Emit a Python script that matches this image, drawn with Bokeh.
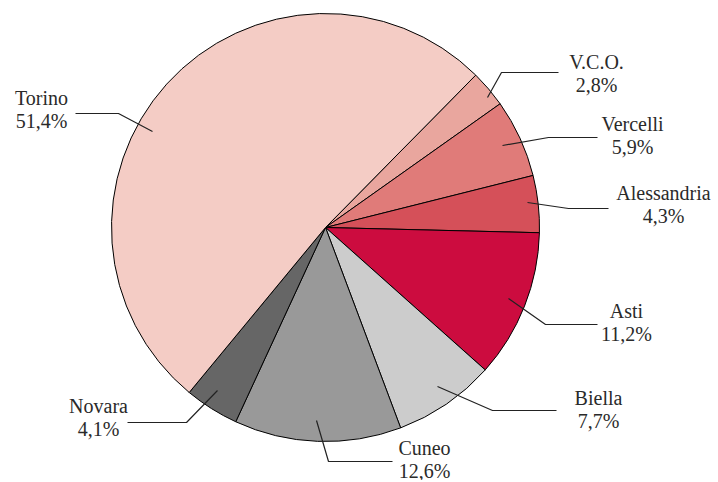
import numpy as np
from bokeh.plotting import figure
from bokeh.models import Range1d, ColumnDataSource
from bokeh.core.properties import value
from bokeh.embed import file_html
from bokeh.resources import INLINE

# Data (clockwise order starting after Torino at top-right)
provinces = ["V.C.O.", "Vercelli", "Alessandria", "Asti", "Biella", "Cuneo", "Novara", "Torino"]
shares = [2.8, 5.9, 4.3, 11.2, 7.7, 12.6, 4.1, 51.4]
share_labels = ["2,8%", "5,9%", "4,3%", "11,2%", "7,7%", "12,6%", "4,1%", "51,4%"]
colors = ["#E9A69E", "#E07B79", "#D55059", "#CC0C3F", "#CCCCCC", "#999999", "#666666", "#F4CCC5"]

# Layout (pixel coordinates, y measured from top of the window)
W, H = 716, 480
CX, CY, R = 325, 227, 214
START_DEG = 45.4
FONT = "Liberation Serif"
FS = "20px"

leaders = {
    "V.C.O.": [(487, 97), (501, 72), (558, 72)],
    "Vercelli": [(502, 145), (548, 137), (597, 137)],
    "Alessandria": [(527, 202), (568, 208), (608, 208)],
    "Asti": [(508, 298), (545, 324), (597, 324)],
    "Biella": [(437, 386), (492, 410), (556, 410)],
    "Cuneo": [(316, 420), (328, 461), (392, 461)],
    "Novara": [(217, 390), (186, 422), (127, 422)],
    "Torino": [(152, 131), (118, 113), (75, 113)],
}
label_pos = {
    "V.C.O.": (596, 61), "Vercelli": (632, 123), "Alessandria": (663, 192),
    "Asti": (626, 310), "Biella": (598, 397), "Cuneo": (424, 447),
    "Novara": (98, 405), "Torino": (41, 97),
}
LINE_GAP = 23

def fy(y):
    return 482 - y

p = figure(width=W, height=H, output_backend="svg", toolbar_location=None,
           x_range=Range1d(0, W), y_range=Range1d(482 - H, 482), min_border=0)
p.axis.visible = False
p.grid.visible = False
p.outline_line_color = None
p.background_fill_color = "white"
p.border_fill_color = "white"

total = sum(shares)
cum = np.concatenate([[0], np.cumsum(shares)]) / total * 2 * np.pi
start = np.deg2rad(START_DEG)
end_angles = start - cum[:-1]
start_angles = start - cum[1:]

src = ColumnDataSource(dict(start=start_angles, end=end_angles, color=colors, name=provinces))
p.wedge(x=CX, y=fy(CY), radius=R, start_angle="start", end_angle="end",
        direction="anticlock", fill_color="color", line_color="black", line_width=1, source=src)

for name in provinces:
    pts = leaders[name]
    p.line([q[0] for q in pts], [fy(q[1]) for q in pts], line_color="#222222", line_width=1.2)

xs, ys1, ys2, t1, t2 = [], [], [], [], []
for name, lab in zip(provinces, share_labels):
    x, y = label_pos[name]
    xs.append(x); ys1.append(fy(y)); ys2.append(fy(y + LINE_GAP))
    t1.append(name); t2.append(lab)

p.text(x=xs, y=ys1, text=t1, text_align="center", text_baseline="middle",
       text_font=value(FONT), text_font_size=FS, text_color="#2a2a2a")
p.text(x=xs, y=ys2, text=t2, text_align="center", text_baseline="middle",
       text_font=value(FONT), text_font_size=FS, text_color="#2a2a2a")

open("out.html", "w").write(file_html(p, INLINE))
